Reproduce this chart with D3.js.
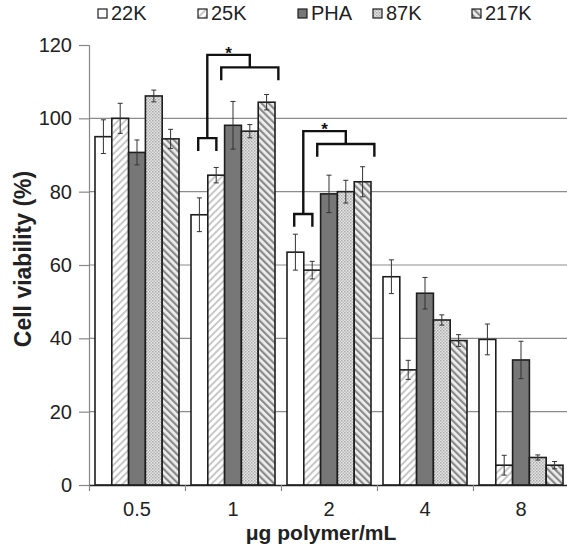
<!DOCTYPE html>
<html><head><meta charset="utf-8">
<script src="https://cdn.jsdelivr.net/npm/d3@7"></script>
<style>body{margin:0;background:#fff}svg{display:block}text{font-family:"Liberation Sans",Arial,sans-serif}</style>
</head><body><svg id="c" width="567" height="551"></svg>
<script>
const categories = ["0.5","1","2","4","8"];
const series = ["22K","25K","PHA","87K","217K"];
const values = {
  "22K":  [95.0, 73.7, 63.5, 56.8, 39.7],
  "25K":  [100.0, 84.5, 58.6, 31.4, 5.4],
  "PHA":  [90.7, 98.1, 79.4, 52.3, 34.1],
  "87K":  [106.1, 96.5, 80.0, 45.0, 7.5],
  "217K": [94.4, 104.4, 82.7, 39.4, 5.4]
};
const errors = {
  "22K":  [4.6, 4.6, 4.9, 4.6, 4.2],
  "25K":  [4.1, 2.1, 2.4, 2.6, 2.7],
  "PHA":  [3.4, 6.5, 5.1, 4.3, 5.1],
  "87K":  [1.6, 1.8, 3.1, 1.4, 0.7],
  "217K": [2.6, 2.1, 4.1, 1.6, 1.0]
};
const yTicks = [0,20,40,60,80,100,120];
// significance brackets: category, left group (bar index span), right group, y levels
const sigCats = ["1","2"];
const sigLeftSpan = [[0.43,1.51],[0.43,1.51]];
const sigRightSpan = [[1.8,5.2],[1.8,5.2]];
const sigLeftY = [94.6, 73.9];
const sigRightY = [113.9, 93.0];
const sigTopY = [117.3, 96.5];
const sigLabel = ["*","*"];

const svg = d3.select("#c");
const defs = svg.append("defs");
const p1 = defs.append("pattern").attr("id","p25").attr("patternUnits","userSpaceOnUse").attr("width",5).attr("height",5).attr("patternTransform","rotate(45)");
p1.append("rect").attr("width",5).attr("height",5).attr("fill","#fff");
p1.append("rect").attr("width",2).attr("height",5).attr("fill","#c8c8c8");
const p2 = defs.append("pattern").attr("id","p217").attr("patternUnits","userSpaceOnUse").attr("width",5).attr("height",5).attr("patternTransform","rotate(-45)");
p2.append("rect").attr("width",5).attr("height",5).attr("fill","#eee");
p2.append("rect").attr("width",2.2).attr("height",5).attr("fill","#8a8a8a");
const p3 = defs.append("pattern").attr("id","p87").attr("patternUnits","userSpaceOnUse").attr("width",3).attr("height",3);
p3.append("rect").attr("width",3).attr("height",3).attr("fill","#e6e6e6");
p3.append("rect").attr("width",1.5).attr("height",1.5).attr("fill","#a8a8a8");
p3.append("rect").attr("x",1.5).attr("y",1.5).attr("width",1.5).attr("height",1.5).attr("fill","#b8b8b8");

const fills = {"22K":"#fff","25K":"url(#p25)","PHA":"#777","87K":"url(#p87)","217K":"url(#p217)"};

const mL = 89, mR = 569, mT = 45, mB = 485;
const y = d3.scaleLinear().domain([0,120]).range([mB, mT]);
const x0 = d3.scaleBand().domain(categories).range([mL, mR]).padding(0);
const x1 = d3.scaleBand().domain(series).range([0, x0.bandwidth()]).paddingInner(0).paddingOuter(0.357);

svg.append("g").selectAll("line").data(yTicks.filter(t => t>0 && t<120)).join("line")
  .attr("x1",mL).attr("x2",mR).attr("y1",d=>y(d)).attr("y2",d=>y(d))
  .attr("stroke","#8c8c8c").attr("stroke-width",1.2);

const ya = svg.append("g").attr("transform",`translate(${mL},0)`)
  .call(d3.axisLeft(y).tickValues(yTicks).tickSize(10).tickPadding(7));
ya.select(".domain").attr("stroke","#888").attr("stroke-width",1.2);
ya.selectAll(".tick line").attr("stroke","#888").attr("stroke-width",1.2);
ya.selectAll("text").attr("font-size",20).attr("fill","#222").style("font-family","Liberation Sans, Arial, sans-serif");

const groups = svg.append("g").selectAll("g").data(categories).join("g")
  .attr("transform", d => `translate(${x0(d)},0)`);
series.forEach(s => {
  groups.append("rect")
    .attr("x", x1(s)).attr("width", x1.bandwidth())
    .attr("y", (d,i) => y(values[s][i])).attr("height", (d,i) => mB - y(values[s][i]))
    .attr("fill", fills[s]).attr("stroke","#1e1e1e").attr("stroke-width",1.6);
});
series.forEach(s => {
  const cx = x1(s) + x1.bandwidth()/2;
  groups.append("line").attr("x1",cx).attr("x2",cx)
    .attr("y1",(d,i)=>y(values[s][i]+errors[s][i])).attr("y2",(d,i)=>y(values[s][i]-errors[s][i]))
    .attr("stroke","#333").attr("stroke-width",1);
  [1,-1].forEach(sn => {
    groups.append("line").attr("x1",cx-2.5).attr("x2",cx+2.5)
      .attr("y1",(d,i)=>y(values[s][i]+sn*errors[s][i])).attr("y2",(d,i)=>y(values[s][i]+sn*errors[s][i]))
      .attr("stroke","#333").attr("stroke-width",1);
  });
});

const xa = svg.append("g").attr("transform",`translate(0,${mB})`)
  .call(d3.axisBottom(x0).tickSize(0).tickPadding(17));
xa.select(".domain").attr("stroke","#222").attr("stroke-width",1.4);
xa.selectAll("text").attr("font-size",20).attr("fill","#222").style("font-family","Liberation Sans, Arial, sans-serif");
svg.append("g").selectAll("line").data(categories).join("line")
  .attr("x1",d=>x0(d)+0.5).attr("x2",d=>x0(d)+0.5).attr("y1",mB).attr("y2",mB+6)
  .attr("stroke","#888").attr("stroke-width",1.2);

const sg = svg.append("g").attr("fill","none").attr("stroke","#111").attr("stroke-width",2.4);
const bx = (c, f) => x0(c) + x1.paddingOuter()*x1.step() + f*x1.step();
const tickLen = 3.5;
sigCats.forEach((c,k) => {
  const l0 = bx(c, sigLeftSpan[k][0]), l1 = bx(c, sigLeftSpan[k][1]);
  const r0 = bx(c, sigRightSpan[k][0]), r1 = bx(c, sigRightSpan[k][1]);
  const lm = (l0+l1)/2, rm = (r0+r1)/2;
  sg.append("path").attr("d", `M${l0},${y(sigLeftY[k]-tickLen)}V${y(sigLeftY[k])}H${l1}V${y(sigLeftY[k]-tickLen)}`);
  sg.append("path").attr("d", `M${r0},${y(sigRightY[k]-tickLen)}V${y(sigRightY[k])}H${r1}V${y(sigRightY[k]-tickLen)}`);
  sg.append("path").attr("d", `M${lm},${y(sigLeftY[k])}V${y(sigTopY[k])}H${rm}V${y(sigRightY[k])}`);
  svg.append("text").attr("x",(lm+rm)/2).attr("y",y(sigTopY[k])+4).attr("text-anchor","middle")
    .attr("font-size",17).attr("font-weight","bold").attr("fill","#111").text(sigLabel[k]);
});

const legX = [98, 198, 298, 373, 472];
const lg = svg.append("g").selectAll("g").data(series).join("g")
  .attr("transform",(d,i)=>`translate(${legX[i]},9)`);
lg.append("rect").attr("width",9).attr("height",9).attr("fill",d=>fills[d]).attr("stroke","#1e1e1e").attr("stroke-width",1.2);
lg.append("text").attr("x",13).attr("y",10.5).attr("font-size",20).attr("fill","#222").text(d=>d);

svg.append("text").attr("x",321).attr("y",540).attr("text-anchor","middle")
  .attr("font-size",21).attr("font-weight","bold").attr("fill","#222").text("μg polymer/mL");
svg.append("text").attr("transform","translate(31,259) rotate(-90)").attr("text-anchor","middle")
  .attr("font-size",23).attr("font-weight","bold").attr("fill","#222").text("Cell viability (%)");
</script></body></html>
